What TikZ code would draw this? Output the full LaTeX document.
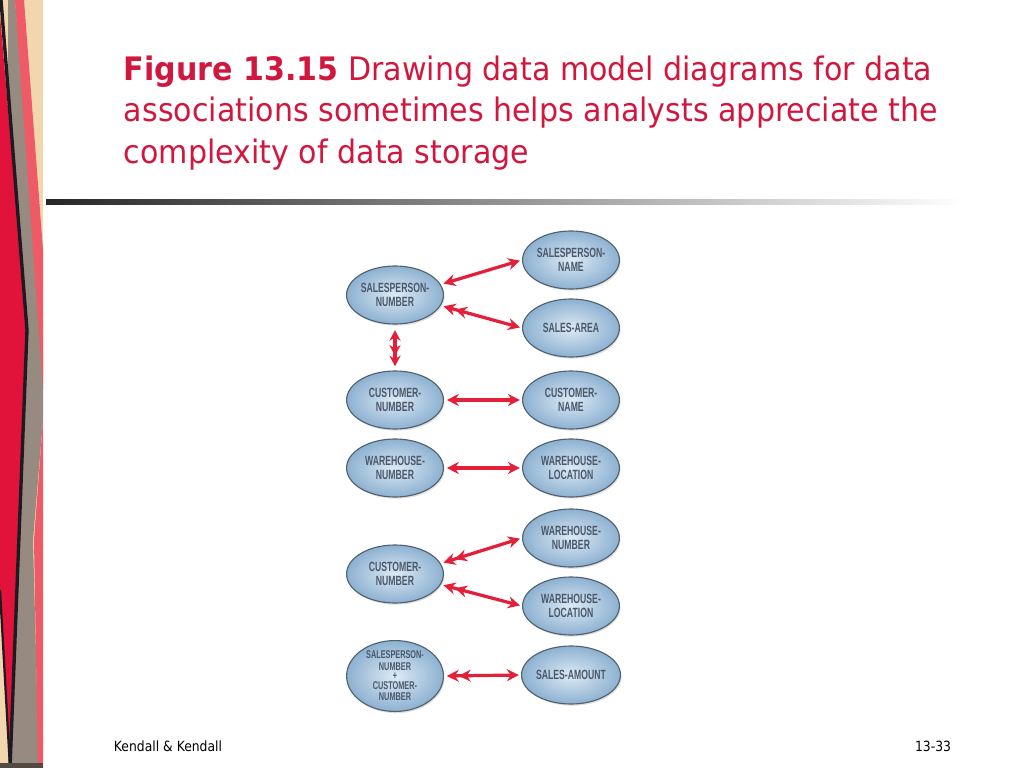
\documentclass[tikz,border=0pt]{standalone}
\usepackage{fontspec}
\setmainfont{DejaVu Sans}
\newfontfamily\titlefont[FakeStretch=0.93]{DejaVu Sans}
\newfontfamily\footfont[FakeStretch=0.88]{DejaVu Sans}
\newfontfamily\ovalfont[FakeStretch=0.65]{Liberation Sans}
\usetikzlibrary{arrows.meta,shapes.geometric,shadows}

\definecolor{slidered}{HTML}{D2173F}
\definecolor{arrowred}{HTML}{E2203A}
\definecolor{ovaltext}{HTML}{4A586A}
\definecolor{ovalline}{HTML}{50616F}
\definecolor{ovalin}{HTML}{DDEAF5}
\definecolor{ovalout}{HTML}{8DB1D1}
\definecolor{bandbeige}{HTML}{F2D6AE}
\definecolor{bandred}{HTML}{E2133A}
\definecolor{bandgrey}{HTML}{978A80}
\definecolor{bandpink}{HTML}{EE5A66}
\definecolor{bandblack}{HTML}{1E1A22}

\tikzset{
oval/.style = {ellipse, draw=ovalline, line width=0.8pt, inner color=ovalin, outer color=ovalout,
	minimum width=2.42cm, minimum height=1.45cm, inner sep=0pt, align=center, text=ovaltext,
	font=\ovalfont\bfseries\fontsize{9.5}{10}\selectfont,
	drop shadow={opacity=0.25, shadow xshift=0.8pt, shadow yshift=-1.2pt}},
link/.style = {draw=arrowred, line width=2.3pt, {Stealth[length=8.5pt,width=8.5pt]}-{Stealth[length=8.5pt,width=8.5pt]},
	shorten <=2pt, shorten >=1.5pt},
manystart/.style = {link, {Stealth[length=8.5pt,width=8.5pt] Stealth[length=8.5pt,width=8.5pt]}-{Stealth[length=8.5pt,width=8.5pt]}},
manyend/.style = {link, {Stealth[length=7.5pt,width=8pt]}-{Stealth[length=7.5pt,width=8pt] Stealth[length=7.5pt,width=8pt]}}
}

\begin{document}
\begin{tikzpicture}[x=0.025cm, y=-0.025cm]
\useasboundingbox (0,0) rectangle (1024,768);

% left band
\fill[bandbeige] (0,0) rectangle (43,768);
\fill[bandgrey] (8,0) -- (15,0) -- (43,330) -- (43,420) -- (33,540) -- (39,768) -- (10,768) -- cycle;
\fill[bandpink] (15,0) -- (24,0) -- (43,250) -- (43,390) -- cycle;
\fill[bandpink] (43,420) -- (43,768) -- (38,768) -- (34,540) -- cycle;
\fill[bandred] (0,15) -- (27,330) -- (10,768) -- (0,600) -- cycle;
\draw[bandblack, line width=2.4pt] (1,0) -- (27,330) -- (10,768);
\draw[bandblack, line width=1.6pt] (0,590) -- (10,768);
\fill[bandblack!75!bandbeige] (0,763) rectangle (43,768);

% title
\node[anchor=base west, text=slidered, font=\titlefont\fontsize{23}{27}\selectfont] (title1) at (119,81)
	{\textbf{Figure 13.15} Drawing data model diagrams for data};
\node[anchor=base west, text=slidered, font=\titlefont\fontsize{23}{27}\selectfont] (title2) at (119,122)
	{associations sometimes helps analysts appreciate the};
\node[anchor=base west, text=slidered, font=\titlefont\fontsize{23}{27}\selectfont] (title3) at (119,163)
	{complexity of data storage};
\shade[left color=black!85, right color=white] (46,199) rectangle (965,204);

% salesperson
\node[oval] (spnum) at (395,295) {SALESPERSON-\\NUMBER};
\node[oval] (spname) at (571,260) {SALESPERSON-\\NAME};
\node[oval] (sarea) at (571,328) {SALES-AREA};

% customer and warehouse
\node[oval] (cnum) at (395,400) {CUSTOMER-\\NUMBER};
\node[oval] (cname) at (571,400) {CUSTOMER-\\NAME};
\node[oval] (whnum) at (395,468) {WAREHOUSE-\\NUMBER};
\node[oval] (whloc) at (571,468) {WAREHOUSE-\\LOCATION};

% customer to warehouses
\node[oval] (cnum2) at (395,574) {CUSTOMER-\\NUMBER};
\node[oval] (whnum2) at (571,538) {WAREHOUSE-\\NUMBER};
\node[oval] (whloc2) at (571,606) {WAREHOUSE-\\LOCATION};

% sales amount
\node[oval, font=\ovalfont\bfseries\fontsize{8}{8}\selectfont] (spcnum) at (395,676)
	{SALESPERSON-\\NUMBER\\[-1pt]+\\[-1pt]CUSTOMER-\\NUMBER};
\node[oval] (samount) at (571,675) {SALES-AMOUNT};

\draw[link] (spnum.13) -- (spname.west);
\draw[manystart] (spnum.-13) -- (sarea.west);
\draw[manyend, shorten <=4pt, shorten >=3pt] (spnum.south) -- (cnum.north);
\foreach \a/\b in {cnum/cname, whnum/whloc}
	\draw[link] (\a.east) -- (\b.west);
\draw[manystart] (cnum2.13) -- (whnum2.west);
\draw[manystart] (cnum2.-13) -- (whloc2.west);
\draw[manystart] (spcnum.east) -- (samount.west);

% footer
\node[anchor=base west, font=\footfont\fontsize{10}{12}\selectfont] (author) at (109,751) {Kendall \& Kendall};
\node[anchor=base east, font=\footfont\fontsize{10}{12}\selectfont] (page) at (956,751) {13-33};
\end{tikzpicture}
\end{document}
